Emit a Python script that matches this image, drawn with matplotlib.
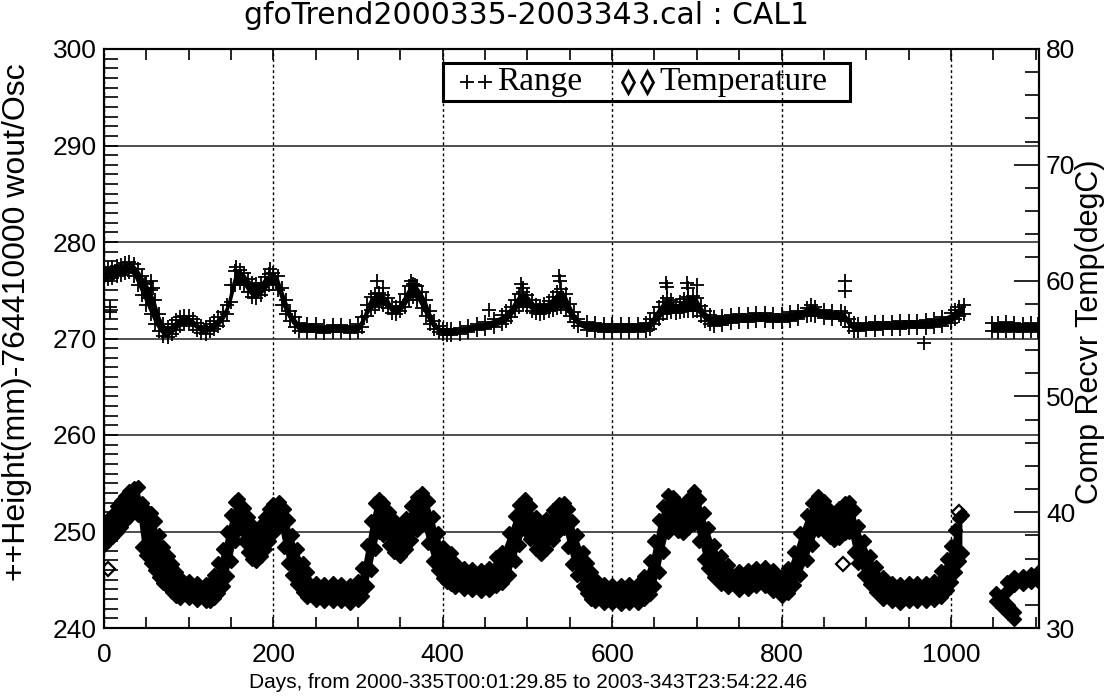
import matplotlib.pyplot as plt
import numpy as np
from matplotlib.patches import Rectangle
from matplotlib.ticker import MultipleLocator

plt.rcParams['font.family'] = ['Liberation Sans', 'DejaVu Sans']

# Range band (left axis), low / high edge of the point cloud
range_days = [0, 5, 10, 15, 20, 25, 30, 35, 40, 45, 50, 55, 60, 65, 70, 75, 80, 85, 90, 95, 100,
              105, 110, 115, 120, 125, 130, 135, 140, 145, 150, 155, 160, 165, 170, 175, 180, 185,
              190, 195, 200, 205, 210, 215, 220, 225, 230,
              240, 250, 260, 270, 280, 290, 300,
              305, 310, 315, 320, 325, 330, 335, 340, 345, 350, 355, 360, 365, 370, 375, 380, 385,
              390, 395, 400, 405,
              410, 420, 430, 440, 450, 460, 470,
              475, 480, 485, 490, 495, 500, 505, 510, 515, 520, 525, 530, 535, 540, 545, 550, 555, 560,
              570, 580, 590, 600, 610, 620, 630, 640,
              645, 650, 655, 660, 665, 670, 675, 680, 685, 690, 695, 700, 705, 710, 715, 720,
              730, 740, 750, 760, 770, 780, 790, 800, 810, 820, 830,
              835, 840, 850, 860, 870, 875, 880, 885, 890,
              900, 910, 920, 930, 940, 950, 960, 970, 980, 990, 1000, 1005, 1010, 1015,
              1048, 1055, 1065, 1075, 1085, 1095, 1103]
range_low = [276.0, 276.2, 276.3, 276.5, 276.6, 276.8, 276.9, 276.5, 275.5, 274.5, 273.5, 272.5, 271.5, 270.8,
             270.3, 270.2, 270.5, 270.9, 271.3, 271.5, 271.5,
             271.3, 270.9, 270.6, 270.5, 270.8, 271.0, 271.3, 271.8, 272.5, 273.8, 275.5, 275.8, 275.5,
             274.8, 274.3, 274.2, 274.5, 275.0, 275.5, 275.6, 275.0, 273.5, 272.5, 271.8, 271.2, 270.8,
             270.7, 270.7, 270.6, 270.7, 270.7, 270.6, 270.7,
             271.2, 272.3, 273.0, 273.3, 273.6, 273.5, 273.2, 272.6, 272.5, 272.8, 273.3, 274.0, 274.3,
             274.0, 273.2, 272.3, 271.5, 271.0, 270.7, 270.5, 270.4,
             270.4, 270.5, 270.7, 270.9, 271.0, 271.2, 271.5,
             271.8, 272.2, 272.8, 273.3, 273.5, 273.3, 272.9, 272.6, 272.5, 272.6, 272.8, 273.0, 273.2,
             273.3, 273.0, 272.3, 271.7, 271.3,
             270.9, 270.8, 270.7, 270.7, 270.7, 270.7, 270.7, 270.8,
             271.0, 271.5, 272.0, 272.5, 272.6, 272.7, 272.6, 272.7, 272.8, 272.8, 272.9, 272.8, 272.3,
             271.8, 271.5, 271.3,
             271.4, 271.6, 271.7, 271.7, 271.8, 271.8, 271.7, 271.7, 271.8, 272.0, 272.3,
             272.4, 272.3, 272.1, 272.0, 272.0, 271.8, 271.2, 270.8, 270.8,
             270.9, 270.9, 271.0, 271.0, 271.0, 271.1, 271.1, 271.1, 271.2, 271.3, 271.6, 272.0, 272.3, 272.5,
             270.8, 270.7, 270.8, 270.7, 270.7, 270.8, 270.7]
range_high = [277.2, 277.3, 277.4, 277.5, 277.6, 277.8, 277.9, 277.7, 277.2, 276.5, 275.8, 275.0, 274.0, 272.5,
              271.5, 271.2, 271.5, 271.9, 272.2, 272.3, 272.3,
              272.0, 271.6, 271.3, 271.2, 271.5, 271.8, 272.2, 272.7, 273.5, 275.5, 277.0, 277.1, 276.8,
              276.2, 275.8, 275.6, 275.8, 276.4, 276.7, 276.8, 276.5, 275.2, 274.0, 272.8, 272.2, 271.6,
              271.5, 271.5, 271.3, 271.4, 271.4, 271.3, 271.5,
              272.2, 273.5, 274.3, 274.6, 274.7, 274.5, 274.2, 273.4, 273.3, 273.8, 274.6, 275.4, 275.6,
              275.4, 274.8, 274.0, 272.8, 271.8, 271.3, 271.0, 271.0,
              271.0, 271.1, 271.3, 271.5, 271.7, 272.0, 272.4,
              272.8, 273.3, 274.0, 274.6, 274.8, 274.5, 274.0, 273.5, 273.4, 273.6, 273.9, 274.3, 274.8,
              275.1, 274.6, 273.6, 272.7, 272.0,
              271.7, 271.6, 271.5, 271.5, 271.5, 271.5, 271.5, 271.6,
              272.0, 272.6, 273.3, 273.8, 274.2, 274.0, 273.5, 273.8, 274.1, 274.3, 274.4, 274.2, 273.4,
              272.8, 272.4, 272.2,
              272.3, 272.4, 272.5, 272.5, 272.6, 272.6, 272.5, 272.5, 272.7, 272.9, 273.2,
              273.5, 273.3, 273.0, 272.8, 272.8, 272.6, 272.0, 271.6, 271.5,
              271.6, 271.7, 271.7, 271.7, 271.8, 271.8, 271.8, 271.9, 272.0, 272.2, 272.6, 273.0, 273.3, 273.5,
              271.6, 271.6, 271.7, 271.6, 271.5, 271.6, 271.5]

# stray range points
range_out_days = [7, 7, 48, 52, 56, 58, 156, 196, 322, 330, 363, 367, 455, 492, 495, 537, 538,
                  663, 665, 688, 690, 700, 875, 875, 968]
range_out_vals = [272.7, 273.3, 275.6, 274.2, 276.0, 275.2, 277.4, 277.2, 276.0, 275.2, 276.0, 275.5,
                  273.0, 275.6, 275.2, 276.5, 276.0, 275.8, 275.3, 275.8, 275.2, 275.5, 276.0, 274.9, 269.5]

# Temperature band (right axis, degC)
temp_days = [0, 5, 10, 15, 20, 25, 30, 35, 40, 45, 50, 55, 60, 65, 70, 75, 80, 85, 90,
             100, 110, 120, 125, 130, 135, 140, 145, 150, 155, 158, 165, 170, 175, 180, 185, 190, 195,
             200, 207, 212, 217, 222, 228, 235, 240,
             250, 260, 270, 280, 290, 300, 305, 310, 315, 320, 325, 330, 337, 343, 350, 357, 363, 370,
             376, 382, 388, 394, 400, 405, 410, 415, 425, 435, 445, 455, 463, 470, 478, 485, 490, 497,
             503, 510, 516, 522, 530, 537, 543, 548, 553, 558, 565, 570, 575, 580, 590,
             600, 610, 620, 630, 638, 645, 650, 655, 660, 666, 672, 678, 684, 690, 697, 703, 708, 713,
             720, 728, 737, 750, 760, 770, 780, 790, 800, 808, 815, 822, 830, 836, 843, 850, 857, 862,
             868, 875, 880, 885, 890, 897, 905, 912, 920, 930, 940, 950, 960, 970, 980, 988, 995, 1000,
             1005, 1010, 1013]
temp_low = [37.2, 37.5, 37.9, 38.3, 38.7, 39.2, 39.6, 40.0, 39.8, 37.0, 36.3, 35.6, 35.0, 34.4, 33.9, 33.5,
            33.1, 32.8, 32.6,
            32.6, 32.4, 32.3, 32.3, 32.6, 33.0, 33.6, 34.5, 35.8, 37.5, 38.5, 37.5, 36.6, 36.0, 35.8, 36.2,
            36.8, 37.5, 38.2, 38.8, 37.0, 35.6, 34.6, 33.8, 33.1, 32.7,
            32.4, 32.3, 32.3, 32.3, 32.2, 32.4, 32.8, 33.6, 35.0, 36.8, 38.3, 38.0, 37.2, 36.6, 36.2, 36.8,
            37.6, 38.5, 39.0, 37.3, 35.8, 35.0, 34.3, 34.0, 33.8, 33.5, 33.4, 33.3, 33.2, 33.3, 33.6, 33.9,
            34.6, 35.8, 37.2, 38.5, 37.7, 36.8, 36.4, 36.8, 37.6, 38.4, 38.6, 37.0, 35.5, 34.6, 33.6, 33.0,
            32.5, 32.3, 32.2,
            32.2, 32.1, 32.2, 32.2, 32.5, 32.9, 33.6, 34.8, 36.6, 38.3, 38.8, 38.4, 38.2, 38.6, 39.0, 37.5,
            36.0, 35.2, 34.4, 33.8, 33.5, 33.3, 33.4, 33.6, 33.6, 33.2, 32.8, 33.0, 33.7, 34.6, 35.9, 37.2,
            38.5, 38.4, 37.9, 37.6, 37.8, 38.2, 38.3, 36.6, 35.6, 34.6, 33.8, 33.1, 32.5, 32.3, 32.2, 32.3,
            32.3, 32.3, 32.4, 32.7, 33.3, 34.0, 34.8, 35.8, 36.5]
temp_high = [38.8, 39.3, 39.8, 40.5, 41.0, 41.4, 41.8, 42.1, 42.2, 40.8, 40.2, 39.9, 39.2, 38.0, 37.0, 36.2,
             35.5, 34.8, 34.3,
             34.1, 33.9, 33.8, 33.9, 34.6, 35.6, 36.8, 38.3, 39.8, 40.9, 41.1, 40.4, 39.6, 38.9, 38.3, 38.9,
             39.6, 40.3, 40.7, 40.9, 40.3, 39.3, 38.0, 36.8, 35.6, 34.8,
             33.9, 33.8, 33.9, 33.8, 33.7, 34.1, 35.2, 37.2, 39.2, 40.8, 41.1, 40.8, 40.0, 39.3, 38.8, 39.5,
             40.5, 41.3, 41.7, 41.0, 39.6, 38.2, 37.0, 36.4, 36.5, 35.6, 35.2, 35.1, 35.0, 35.2, 36.1, 36.6,
             38.2, 39.7, 40.6, 41.1, 40.5, 39.6, 38.9, 39.4, 40.2, 40.7, 40.8, 40.3, 39.2, 38.0, 36.6, 35.6,
             34.8, 34.2, 33.8,
             33.7, 33.7, 33.8, 33.8, 34.5, 35.8, 37.5, 39.3, 40.5, 41.5, 41.3, 40.8, 40.4, 41.1, 41.8, 41.1,
             39.9, 38.6, 37.2, 36.2, 35.4, 34.9, 35.0, 35.2, 35.3, 35.0, 34.5, 35.2, 36.6, 38.2, 39.8, 40.8,
             41.4, 41.0, 40.2, 39.9, 40.4, 40.8, 40.9, 40.2, 38.8, 37.5, 36.2, 35.3, 34.4, 33.9, 33.8, 33.9,
             33.9, 33.9, 34.1, 34.9, 36.0, 37.1, 38.5, 39.5, 39.8]

# last weeks: a short drop and a second band
temp_drop_days = [1053, 1060, 1067, 1074]
temp_drop_low = [32.3, 31.8, 31.3, 30.8]
temp_drop_high = [33.0, 32.5, 32.0, 31.4]
temp_end_days = [1066, 1075, 1085, 1095, 1103]
temp_end_low = [33.2, 33.7, 33.8, 34.0, 34.1]
temp_end_high = [34.0, 34.4, 34.5, 34.7, 34.8]

temp_out_days = [5, 873, 1010]
temp_out_vals = [35.1, 35.5, 40.0]


def pieces(days, low, high, gap=20):
    days, low, high = np.asarray(days), np.asarray(low), np.asarray(high)
    cut = np.where(np.diff(days) > gap)[0] + 1
    return zip(np.split(days, cut), np.split(low, cut), np.split(high, cut))


W, H = 1108, 696
fig = plt.figure(figsize=(W / 100, H / 100), dpi=100)
ax = fig.add_axes([104 / W, 1 - 628 / H, 935 / W, 579 / H])
ax2 = ax.twinx()

plus_kw = dict(ls='none', marker='+', ms=10, mew=1.3, color='k')
dia_kw = dict(ls='none', marker='D', ms=7, mew=1.6, mfc='none', mec='k')
dia_fill = dict(ls='none', marker='D', ms=7, mew=1.0, color='k')

# range
for d, lo, hi in pieces(range_days, range_low, range_high):
    ax.fill_between(d, lo, hi, color='k', lw=0)
ax.plot(range_days, range_low, **plus_kw)
ax.plot(range_days, range_high, **plus_kw)
ax.plot(range_out_days, range_out_vals, **plus_kw)

# temperature
for d, lo, hi in [(temp_days, temp_low, temp_high),
                  (temp_drop_days, temp_drop_low, temp_drop_high),
                  (temp_end_days, temp_end_low, temp_end_high)]:
    ax2.fill_between(d, lo, hi, color='k', lw=0)
    ax2.plot(d, lo, **dia_fill)
    ax2.plot(d, hi, **dia_fill)
ax2.plot(temp_out_days, temp_out_vals, **dia_kw)

ax.set_xlim(0, 1104)
ax.set_ylim(240, 300)
ax2.set_ylim(30, 80)

ax.xaxis.set_major_locator(MultipleLocator(200))
ax.xaxis.set_minor_locator(MultipleLocator(50))
ax.yaxis.set_major_locator(MultipleLocator(10))
ax.yaxis.set_minor_locator(MultipleLocator(1))
ax2.yaxis.set_major_locator(MultipleLocator(10))
ax2.yaxis.set_minor_locator(MultipleLocator(2))

ax.tick_params(which='both', direction='in', top=True, right=False, width=1.2, labelsize=19)
ax.tick_params(axis='y', which='both', length=10, pad=5)
ax.tick_params(axis='x', which='both', length=8, pad=11)
ax2.tick_params(which='both', direction='in', width=1.2, labelsize=19, pad=5)
ax2.tick_params(which='major', length=18)
ax2.tick_params(which='minor', length=10)

ax.grid(axis='y', which='major', color='0.25', lw=1.3, ls='-')
ax.grid(axis='x', which='major', color='k', lw=1.0, ls=(0, (2, 2)))
for sp in list(ax.spines.values()) + list(ax2.spines.values()):
    sp.set_linewidth(1.5)

# labels and title
fig.text(528 / W, 1 - 682 / H, 'Days, from 2000-335T00:01:29.85 to 2003-343T23:54:22.46',
         ha='center', va='center', fontsize=15)
fig.text(17 / W, 1 - 322 / H, '++Height(mm)-764410000 wout/Osc',
         ha='center', va='center', rotation=90, fontsize=23)
fig.text(1090 / W, 1 - 332 / H, 'Comp Recvr Temp(degC)',
         ha='center', va='center', rotation=90, fontsize=22)
fig.text(527 / W, 1 - 15 / H, 'gfoTrend2000335-2003343.cal : CAL1',
         ha='center', va='center', fontsize=21.5, family='DejaVu Sans')


# legend box drawn by hand, positions in pixels
def axpos(px, py):
    return (px - 104) / 935, (628 - py) / 579


x0, y0 = axpos(443, 101)
x1, y1 = axpos(850, 63)
ax2.add_patch(Rectangle((x0, y0), x1 - x0, y1 - y0, transform=ax2.transAxes,
                        fill=False, lw=2.2, ec='k', clip_on=False, zorder=5))
ym = axpos(0, 82)[1]
ax2.plot([axpos(467, 0)[0], axpos(485, 0)[0]], [ym, ym], transform=ax2.transAxes,
         ls='none', marker='+', ms=10.5, mew=1.3, color='k', clip_on=False)
ax2.plot([axpos(628, 0)[0], axpos(647, 0)[0]], [ym, ym], transform=ax2.transAxes,
         ls='none', marker='d', ms=11, mew=2, mfc='none', mec='k', clip_on=False)
ax2.text(axpos(497, 0)[0], ym, 'Range', transform=ax2.transAxes, va='center', ha='left',
         family='Liberation Serif', fontsize=24)
ax2.text(axpos(659, 0)[0], ym, 'Temperature', transform=ax2.transAxes, va='center', ha='left',
         family='Liberation Serif', fontsize=24)

fig.savefig('out.png', dpi=100)
